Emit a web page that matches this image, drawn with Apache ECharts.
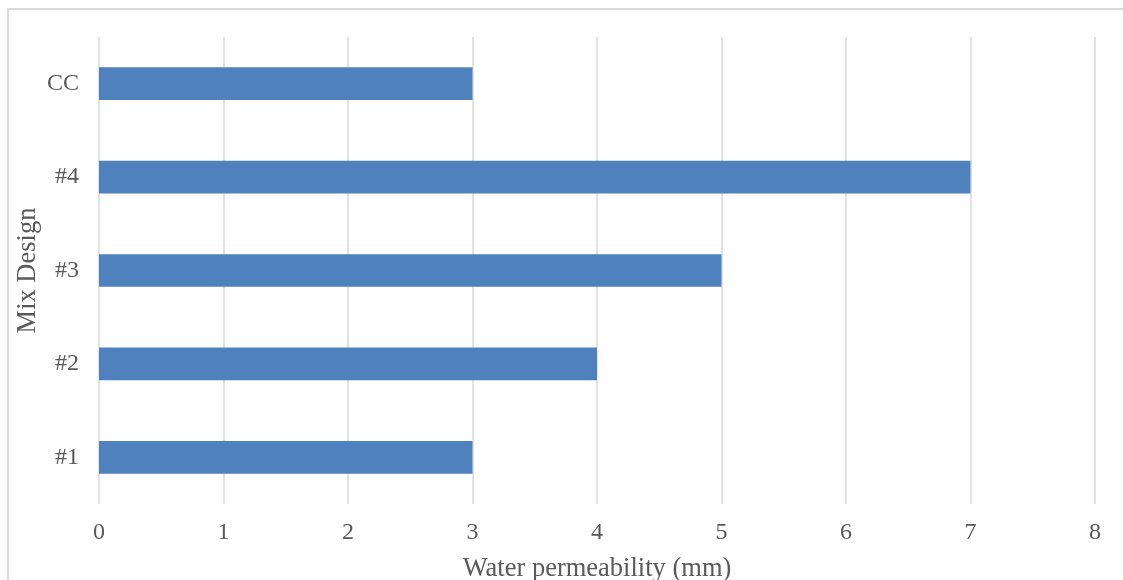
<!DOCTYPE html>
<html>
<head>
<meta charset="utf-8">
<script src="https://cdn.jsdelivr.net/npm/echarts@6/dist/echarts.min.js"></script>
<style>
  html, body { margin: 0; padding: 0; background: #fff; }
  #chart { width: 1123px; height: 580px; }
</style>
</head>
<body>
<div id="chart"></div>
<script>
// Mix designs, listed bottom to top
const categories = ['#1', '#2', '#3', '#4', 'CC'];
// Water permeability depth per mix (mm)
const permeability = [3, 4, 5, 7, 3];
const xTicks = { min: 0, max: 8, interval: 1 };

const font = '"Liberation Serif", "DejaVu Serif", serif';
const textColor = '#595959';
const gridColor = '#d9d9d9';

const chart = echarts.init(document.getElementById('chart'));
chart.setOption({
  animation: false,
  backgroundColor: '#ffffff',
  graphic: [{
    type: 'rect',
    shape: { x: 8, y: 9, width: 1200, height: 700 },
    style: { fill: 'none', stroke: gridColor, lineWidth: 2 },
    silent: true
  }],
  grid: { left: 99, right: 28, top: 37, bottom: 76, containLabel: false, outerBoundsMode: 'none' },
  xAxis: {
    type: 'value',
    min: xTicks.min,
    max: xTicks.max,
    interval: xTicks.interval,
    name: 'Water permeability (mm)',
    nameLocation: 'middle',
    nameGap: 52,
    nameMoveOverlap: false,
    nameTextStyle: { fontFamily: font, fontSize: 26.5, color: textColor },
    axisLine: { show: false },
    axisTick: { show: false },
    axisLabel: { fontFamily: font, fontSize: 24, color: textColor, margin: 17 },
    splitLine: { show: true, lineStyle: { color: gridColor, width: 1.5 } }
  },
  yAxis: {
    type: 'category',
    data: categories,
    name: 'Mix Design',
    nameLocation: 'middle',
    nameGap: 57,
    nameRotate: 90,
    nameMoveOverlap: false,
    nameTextStyle: { fontFamily: font, fontSize: 26.5, color: textColor },
    axisLine: { show: false },
    axisTick: { show: false },
    axisLabel: { fontFamily: font, fontSize: 24, color: textColor, margin: 20 },
    splitLine: { show: false }
  },
  series: [{
    type: 'bar',
    data: permeability,
    barWidth: '35%',
    itemStyle: { color: '#4f81bd' }
  }]
});
</script>
</body>
</html>
